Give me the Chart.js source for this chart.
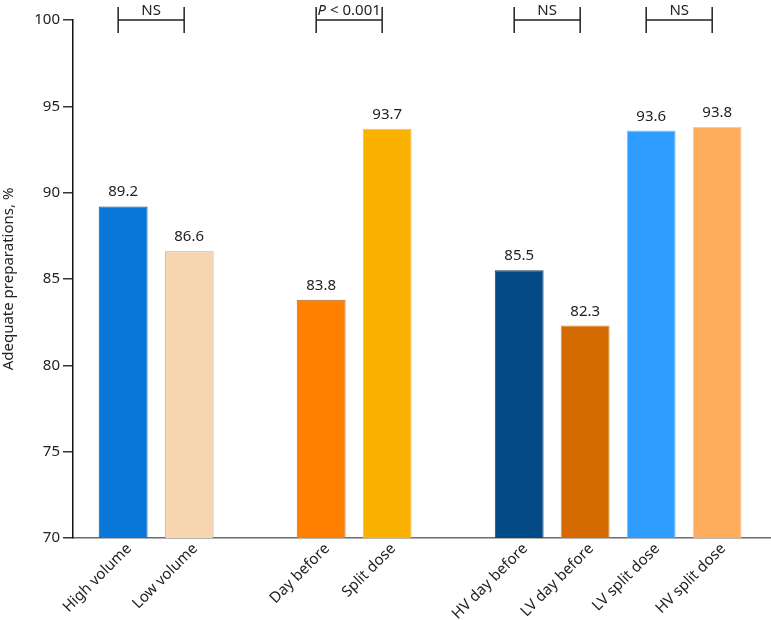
<!DOCTYPE html>
<html>
<head>
<meta charset="utf-8">
<title>Adequate preparations</title>
<script src="https://cdn.jsdelivr.net/npm/chart.js@4.4.1/dist/chart.umd.min.js"></script>
<style>
  html, body { margin: 0; padding: 0; background: #fff; }
  #wrap { position: relative; width: 771px; height: 620px; }
</style>
</head>
<body>
<div id="wrap"><canvas id="prepChart"></canvas></div>
<script>
// blank labels are the gaps between the three groups
const categories = ['High volume', 'Low volume', '', 'Day before', 'Split dose', '', 'HV day before', 'LV day before', 'LV split dose', 'HV split dose'];
const adequate = [89.2, 86.6, null, 83.8, 93.7, null, 85.5, 82.3, 93.6, 93.8];
const barColors = ['#0877d9', '#f8d5b1', null, '#ff8000', '#fab100', null, '#024a86', '#d56b00', '#2e9dff', '#ffad5d'];
const barEdges = ['#1c4f86', '#b5a79a', null, '#a5703c', '#f3c04a', null, '#1f3f63', '#e08a3c', '#7cbfff', '#ffc796'];
const yTicks = [70, 75, 80, 85, 90, 95, 100];
const comparisons = [[0, 1], [3, 4], [6, 7], [8, 9]];
const comparisonText = ['NS', 'P < 0.001', 'NS', 'NS'];

const FONT = "'Noto Sans', 'Open Sans', sans-serif";
const SIZE = 15;

const valueLabels = {
  id: 'valueLabels',
  afterDatasetsDraw(chart) {
    const ctx = chart.ctx;
    const meta = chart.getDatasetMeta(0);
    ctx.save();
    ctx.font = SIZE + 'px ' + FONT;
    ctx.fillStyle = '#222';
    ctx.textAlign = 'center';
    ctx.textBaseline = 'alphabetic';
    meta.data.forEach((bar, i) => {
      if (adequate[i] == null) return;
      ctx.fillText(adequate[i].toFixed(1), bar.x, bar.y - 10);
    });
    ctx.restore();
  }
};

const brackets = {
  id: 'brackets',
  afterDraw(chart) {
    const { ctx, scales: { x, y } } = chart;
    const top = y.getPixelForValue(100);
    ctx.save();
    ctx.strokeStyle = '#222';
    ctx.lineWidth = 1.5;
    ctx.fillStyle = '#222';
    comparisons.forEach(([a, b], i) => {
      const x1 = x.getPixelForValue(a) - 5;
      const x2 = x.getPixelForValue(b) - 5;
      ctx.beginPath();
      ctx.moveTo(x1, top); ctx.lineTo(x2, top);
      ctx.moveTo(x1, top - 13); ctx.lineTo(x1, top + 13);
      ctx.moveTo(x2, top - 13); ctx.lineTo(x2, top + 13);
      ctx.stroke();

      // P is set in italics
      const txt = comparisonText[i];
      const mid = (x1 + x2) / 2;
      ctx.textBaseline = 'alphabetic';
      ctx.textAlign = 'left';
      if (txt.startsWith('P ')) {
        const rest = txt.slice(1);
        ctx.font = 'italic ' + SIZE + 'px ' + FONT;
        const wp = ctx.measureText('P').width;
        ctx.font = SIZE + 'px ' + FONT;
        const wr = ctx.measureText(rest).width;
        const start = mid - (wp + wr) / 2;
        ctx.font = 'italic ' + SIZE + 'px ' + FONT;
        ctx.fillText('P', start, top - 5);
        ctx.font = SIZE + 'px ' + FONT;
        ctx.fillText(rest, start + wp, top - 5);
      } else {
        ctx.font = SIZE + 'px ' + FONT;
        ctx.textAlign = 'center';
        ctx.fillText(txt, mid, top - 5);
      }
    });
    ctx.restore();
  }
};

new Chart(document.getElementById('prepChart'), {
  type: 'bar',
  data: {
    labels: categories,
    datasets: [{
      data: adequate,
      backgroundColor: barColors,
      borderColor: barEdges,
      borderWidth: 1,
      barPercentage: 0.74,
      categoryPercentage: 1
    }]
  },
  options: {
    responsive: true,
    maintainAspectRatio: false,
    animation: false,
    layout: { padding: { top: 20, right: 1 } },
    plugins: {
      legend: { display: false },
      tooltip: { enabled: false }
    },
    scales: {
      x: {
        offset: true,
        grid: { display: false, drawTicks: false },
        border: { color: '#6b6b6b', width: 1.5 },
        ticks: {
          color: '#222',
          font: { family: FONT, size: SIZE },
          minRotation: 45,
          maxRotation: 45,
          autoSkip: false,
          padding: 2,
          labelOffset: 6
        },
        // a little more room at both ends than a plain offset gives
        afterBuildTicks(scale) {
          scale._startValue = -0.76;
          scale._valueRange = 10.56;
        },
        afterFit(scale) { scale.height = 82; }
      },
      y: {
        min: 70,
        max: 100,
        ticks: {
          color: '#222',
          font: { family: FONT, size: SIZE },
          padding: 3
        },
        afterBuildTicks(scale) {
          scale.ticks = yTicks.map(v => ({ value: v }));
        },
        grid: { drawOnChartArea: false, tickLength: 10, color: '#333', lineWidth: 1.5 },
        border: { color: '#111', width: 1.5 },
        title: {
          display: true,
          text: 'Adequate preparations, %',
          color: '#222',
          font: { family: FONT, size: SIZE },
          padding: 0
        },
        afterFit(scale) { scale.width = 73; }
      }
    }
  },
  plugins: [valueLabels, brackets]
});
</script>
</body>
</html>
